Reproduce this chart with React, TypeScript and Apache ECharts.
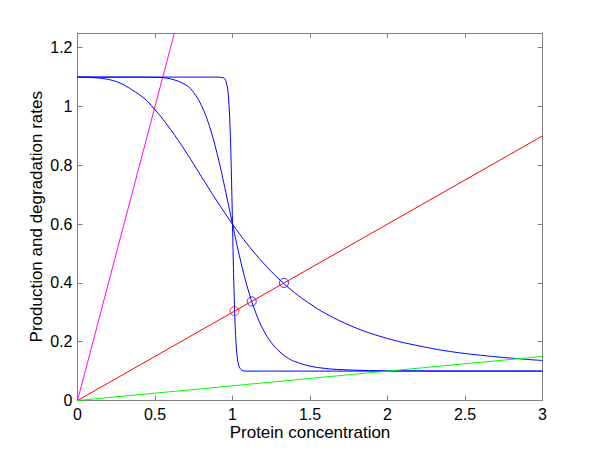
import React, { useEffect, useRef } from "react";
import * as echarts from "echarts";

// Straight lines (x, y end points)
const magentaLine: number[][] = [[0, 0], [0.625, 1.25]];
const redLine: number[][] = [[0, 0], [3, 0.9]];
const greenLine: number[][] = [[0, 0], [3, 0.15]];

// Blue response curves
const curveGentle: number[][] = [
  [0, 1.1], [0.2, 1.092], [0.4, 1.04], [0.5, 0.989], [0.6, 0.922], [0.7, 0.845],
  [0.8, 0.761], [0.9, 0.678], [1.0, 0.6], [1.1, 0.529], [1.2, 0.467], [1.3, 0.413],
  [1.4, 0.367], [1.5, 0.329], [1.6, 0.296], [1.8, 0.246], [2.0, 0.211], [2.2, 0.186],
  [2.4, 0.167], [2.6, 0.154], [2.8, 0.144], [3.0, 0.136],
];
const curveMedium: number[][] = [
  [0, 1.1], [0.3, 1.1], [0.5, 1.099], [0.6, 1.094], [0.7, 1.073], [0.75, 1.047],
  [0.8, 1.003], [0.85, 0.935], [0.9, 0.841], [0.95, 0.725], [1.0, 0.6], [1.05, 0.48],
  [1.1, 0.378], [1.15, 0.298], [1.2, 0.239], [1.25, 0.197], [1.3, 0.168], [1.35, 0.147],
  [1.4, 0.133], [1.5, 0.117], [1.6, 0.109], [1.7, 0.105], [2.0, 0.101], [3.0, 0.1],
];
const curveSteep: number[][] = [
  [0, 1.1], [0.9, 1.1], [0.94, 1.098], [0.95, 1.094], [0.96, 1.083], [0.97, 1.055],
  [0.975, 1.026], [0.98, 0.983], [0.985, 0.919], [0.99, 0.832], [0.995, 0.723],
  [1.0, 0.6], [1.005, 0.478], [1.01, 0.37], [1.015, 0.284], [1.02, 0.221],
  [1.025, 0.178], [1.03, 0.15], [1.04, 0.119], [1.06, 0.103], [1.1, 0.1], [3.0, 0.1],
];

// Steady-state intersection markers
const redMarks: number[][] = [[1.013, 0.304]];
const blueMarks: number[][] = [[1.124, 0.337], [1.332, 0.4]];

const xTicks = [0, 0.5, 1, 1.5, 2, 2.5, 3];
const yTicks = [0, 0.2, 0.4, 0.6, 0.8, 1, 1.2];

const FONT = "'Liberation Sans', Arial, Helvetica, sans-serif";

export default function App() {
  const ref = useRef<HTMLDivElement>(null);
  useEffect(() => {
    if (!ref.current) return;
    const chart = echarts.init(ref.current, undefined, { renderer: "svg" });
    const axisLine = { show: true, onZero: false, lineStyle: { color: "#808080", width: 1 } };
    const tick = { show: true, inside: true, length: 5, lineStyle: { color: "#808080", width: 1 } };
    const line = (data: number[][], color: string, smooth: number | boolean = false) => ({
      type: "line",
      data,
      showSymbol: false,
      symbol: "none",
      smooth,
      lineStyle: { color, width: 1 },
      xAxisIndex: 0,
      yAxisIndex: 0,
      clip: true,
      z: 2,
    });
    chart.setOption({
      animation: false,
      backgroundColor: "#fff",
      textStyle: { fontFamily: FONT },
      grid: { left: 77.5, right: 57.5, top: 33, bottom: 50.5, containLabel: false },
      xAxis: [
        {
          type: "value",
          min: xTicks[0],
          max: xTicks[xTicks.length - 1],
          interval: 0.5,
          position: "bottom",
          axisLine,
          axisTick: tick,
          splitLine: { show: false },
          axisLabel: { color: "#000", fontSize: 16, margin: 6, fontFamily: FONT },
          name: "Protein concentration",
          nameLocation: "middle",
          nameGap: 23,
          nameMoveOverlap: false,
          nameTextStyle: { color: "#000", fontSize: 17, fontFamily: FONT },
        },
        {
          type: "value",
          min: xTicks[0],
          max: xTicks[xTicks.length - 1],
          interval: 0.5,
          position: "top",
          axisLine,
          axisTick: tick,
          splitLine: { show: false },
          axisLabel: { show: false },
        },
      ],
      yAxis: [
        {
          type: "value",
          min: yTicks[0],
          max: 1.25,
          interval: 0.2,
          position: "left",
          axisLine,
          axisTick: tick,
          splitLine: { show: false },
          axisLabel: { color: "#000", fontSize: 16, margin: 5, showMaxLabel: false, fontFamily: FONT },
          name: "Production and degradation rates",
          nameLocation: "middle",
          nameGap: 33,
          nameMoveOverlap: false,
          nameTextStyle: { color: "#000", fontSize: 17, fontFamily: FONT },
        },
        {
          type: "value",
          min: yTicks[0],
          max: 1.25,
          interval: 0.2,
          position: "right",
          axisLine,
          axisTick: tick,
          splitLine: { show: false },
          axisLabel: { show: false },
        },
      ],
      series: [
        {
          type: "line",
          data: [[0, 0]],
          xAxisIndex: 1,
          yAxisIndex: 1,
          symbol: "none",
          lineStyle: { opacity: 0 },
          silent: true,
        },
        line(magentaLine, "#ff00ff"),
        line(curveGentle, "#0000ff", 0.4),
        line(curveMedium, "#0000ff", 0.4),
        line(curveSteep, "#0000ff", 0.3),
        line(redLine, "#ff0000"),
        line(greenLine, "#00ff00"),
        {
          type: "scatter",
          data: redMarks,
          symbol: "circle",
          symbolSize: 9,
          itemStyle: { color: "rgba(0,0,0,0)", borderColor: "#ff0000", borderWidth: 1 },
          z: 3,
        },
        {
          type: "scatter",
          data: blueMarks,
          symbol: "circle",
          symbolSize: 9,
          itemStyle: { color: "rgba(0,0,0,0)", borderColor: "#0000ff", borderWidth: 1 },
          z: 3,
        },
      ],
    });
    return () => chart.dispose();
  }, []);
  return <div ref={ref} style={{ width: 600, height: 451, position: "absolute", left: 0, top: 0 }} />;
}
